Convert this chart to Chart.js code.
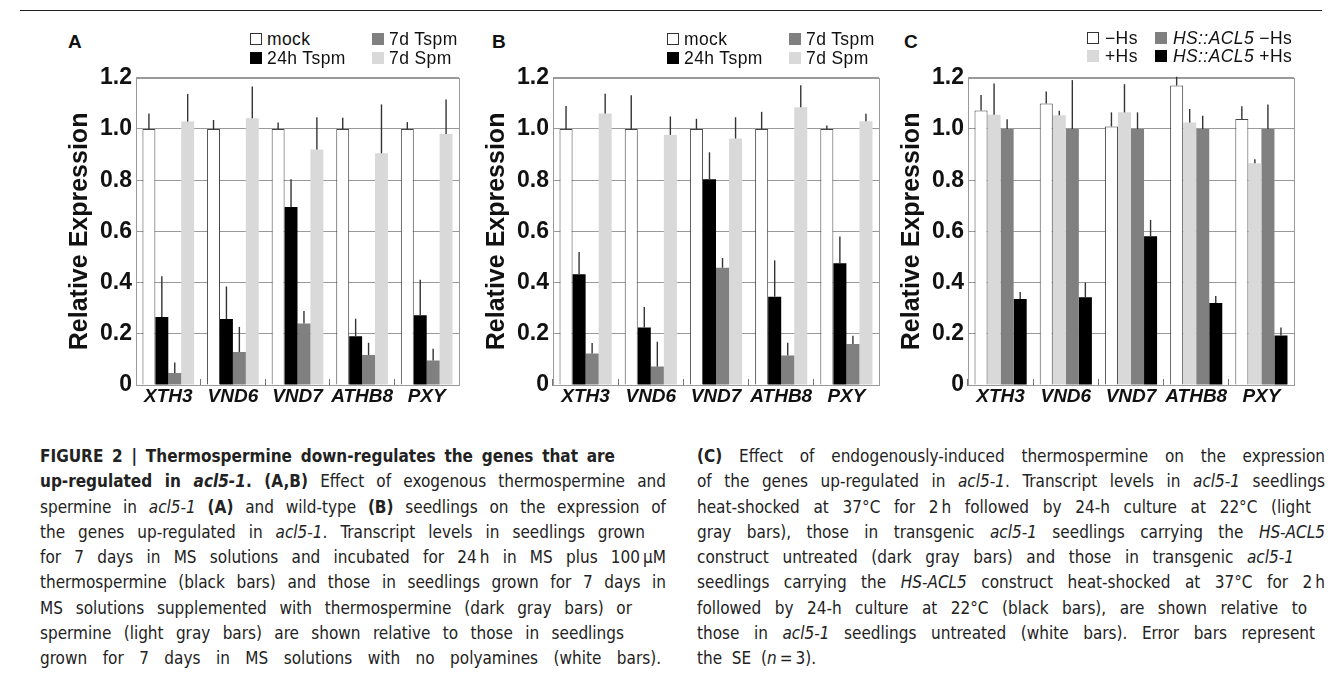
<!DOCTYPE html>
<html><head><meta charset="utf-8">
<script src="https://cdn.jsdelivr.net/npm/chart.js@4"></script>
<style>
html,body{margin:0;padding:0;background:#fff;}
body{width:1342px;height:683px;position:relative;overflow:hidden;font-family:"Liberation Sans",Arial,sans-serif;color:#111;}
.box{position:absolute;}
.rule{position:absolute;left:20px;width:1302px;top:10px;height:1px;background:#222;}
.plabel{position:absolute;font:bold 19px "Liberation Sans",Arial,sans-serif;line-height:19px;}
.leg{position:absolute;font:17.5px "Liberation Sans",Arial,sans-serif;letter-spacing:0.4px;line-height:18px;white-space:nowrap;}
.sw{position:absolute;width:12px;height:12px;box-sizing:border-box;}
.cap{position:absolute;font-family:"Liberation Sans Narrow","DejaVu Sans Condensed","Liberation Sans",sans-serif;font-size:17px;line-height:25.3px;color:#222;}
.cap div{white-space:nowrap;}
.cap .j{text-align:justify;text-align-last:justify;white-space:normal;}
</style></head>
<body>
<div class="rule"></div>

<div class="plabel" style="left:68px;top:32px">A</div>
<div class="plabel" style="left:492px;top:32px">B</div>
<div class="plabel" style="left:904px;top:32px">C</div>

<div class="box" style="left:50px;top:60px;width:420px;height:360px"><canvas id="cA"></canvas></div>
<div class="box" style="left:467px;top:60px;width:423px;height:360px"><canvas id="cB"></canvas></div>
<div class="box" style="left:882px;top:60px;width:423px;height:360px"><canvas id="cC"></canvas></div>

<div id="legends"></div>

<div class="cap" style="left:40px;top:444px;width:626px">
<div class="j" style="width:575px"><b>FIGURE 2 | Thermospermine down-regulates the genes that are</b></div>
<div class="j"><b>up-regulated in <i>acl5-1</i>. (A,B)</b> Effect of exogenous thermospermine and</div>
<div class="j">spermine in <i>acl5-1</i> <b>(A)</b> and wild-type <b>(B)</b> seedlings on the expression of</div>
<div class="j" style="width:605px">the genes up-regulated in <i>acl5-1</i>. Transcript levels in seedlings grown</div>
<div class="j">for 7 days in MS solutions and incubated for 24&#8201;h in MS plus 100&#8201;μM</div>
<div class="j">thermospermine (black bars) and those in seedlings grown for 7 days in</div>
<div class="j" style="width:592px">MS solutions supplemented with thermospermine (dark gray bars) or</div>
<div class="j" style="width:584px">spermine (light gray bars) are shown relative to those in seedlings</div>
<div class="j" style="width:621px">grown for 7 days in MS solutions with no polyamines (white bars).</div>
</div>

<div class="cap" style="left:697px;top:444px;width:628px">
<div class="j"><b>(C)</b> Effect of endogenously-induced thermospermine on the expression</div>
<div class="j">of the genes up-regulated in <i>acl5-1</i>. Transcript levels in <i>acl5-1</i> seedlings</div>
<div class="j" style="width:614px">heat-shocked at 37°C for 2&#8201;h followed by 24-h culture at 22°C (light</div>
<div class="j">gray bars), those in transgenic <i>acl5-1</i> seedlings carrying the <i>HS-ACL5</i></div>
<div class="j" style="width:597px">construct untreated (dark gray bars) and those in transgenic <i>acl5-1</i></div>
<div class="j">seedlings carrying the <i>HS-ACL5</i> construct heat-shocked at 37°C for 2&#8201;h</div>
<div class="j" style="width:610px">followed by 24-h culture at 22°C (black bars), are shown relative to</div>
<div class="j" style="width:618px">those in <i>acl5-1</i> seedlings untreated (white bars). Error bars represent</div>
<div>the&nbsp;&nbsp;SE&nbsp;&nbsp;(<i>n</i>&#8201;=&#8201;3).</div>
</div>

<script>
// ---------- data ----------
const genes = ["XTH3", "VND6", "VND7", "ATHB8", "PXY"];
const yTickLabels = ["0", "0.2", "0.4", "0.6", "0.8", "1.0", "1.2"];
const seriesNamesAB = ["mock", "24h Tspm", "7d Tspm", "7d Spm"];
const seriesNamesC = ["\u2212Hs", "+Hs", "HS::ACL5 \u2212Hs", "HS::ACL5 +Hs"];

// Panel A: acl5-1 seedlings
const aMock        = [1.000, 1.000, 1.000, 1.000, 1.000];
const aMockErr     = [0.061, 0.035, 0.025, 0.044, 0.027];
const a24hTspm     = [0.266, 0.258, 0.695, 0.190, 0.272];
const a24hTspmErr  = [0.159, 0.127, 0.109, 0.069, 0.139];
const a7dTspm      = [0.047, 0.129, 0.240, 0.117, 0.096];
const a7dTspmErr   = [0.041, 0.098, 0.049, 0.048, 0.046];
const a7dSpm       = [1.029, 1.042, 0.920, 0.905, 0.980];
const a7dSpmErr    = [0.108, 0.124, 0.126, 0.191, 0.135];

// Panel B: wild-type seedlings
const bMock        = [1.000, 1.000, 1.000, 1.000, 1.000];
const bMockErr     = [0.090, 0.132, 0.040, 0.067, 0.014];
const b24hTspm     = [0.433, 0.225, 0.804, 0.345, 0.476];
const b24hTspmErr  = [0.087, 0.080, 0.105, 0.142, 0.104];
const b7dTspm      = [0.123, 0.072, 0.458, 0.115, 0.160];
const b7dTspmErr   = [0.041, 0.097, 0.038, 0.050, 0.032];
const b7dSpm       = [1.061, 0.977, 0.963, 1.085, 1.030];
const b7dSpmErr    = [0.077, 0.072, 0.083, 0.086, 0.030];

// Panel C: heat-shock induction
const cNoHs        = [1.072, 1.100, 1.010, 1.170, 1.039];
const cNoHsErr     = [0.061, 0.046, 0.055, 0.034, 0.050];
const cHs          = [1.056, 1.054, 1.065, 1.025, 0.866];
const cHsErr       = [0.122, 0.017, 0.110, 0.053, 0.016];
const cAclNoHs     = [1.000, 1.000, 1.000, 1.000, 1.000];
const cAclNoHsErr  = [0.038, 0.191, 0.065, 0.052, 0.096];
const cAclHs       = [0.336, 0.343, 0.581, 0.320, 0.193];
const cAclHsErr    = [0.027, 0.057, 0.064, 0.028, 0.032];

// ---------- styles ----------
const WHITE = "#ffffff", LIGHT = "#d9d9d9", DARK = "#808080", BLACK = "#000000";
const GRID = "#9a9a9a";

const errorBarPlugin = {
  id: "errorBars",
  afterDatasetsDraw(chart) {
    const ctx = chart.ctx, ys = chart.scales.y;
    ctx.save();
    ctx.strokeStyle = "#333";
    ctx.lineWidth = 1.4;
    chart.data.datasets.forEach((ds, i) => {
      const meta = chart.getDatasetMeta(i);
      meta.data.forEach((el, j) => {
        const top = ys.getPixelForValue(ds.data[j] + ds.errors[j]);
        ctx.beginPath();
        ctx.moveTo(el.x, el.y);
        ctx.lineTo(el.x, top);
        ctx.stroke();
      });
    });
    ctx.restore();
  }
};
const framePlugin = {
  id: "frame",
  beforeDatasetsDraw(chart) {
    const a = chart.chartArea, ctx = chart.ctx;
    ctx.save();
    ctx.strokeStyle = GRID;
    ctx.lineWidth = 1;
    ctx.strokeRect(Math.round(a.left) + 0.5, Math.round(a.top) + 0.5, Math.round(a.right - a.left), Math.round(a.bottom - a.top));
    ctx.restore();
  }
};

function makeChart(id, names, values, errors, colors) {
  const datasets = names.map((n, i) => ({
    label: n,
    data: values[i],
    errors: errors[i],
    backgroundColor: colors[i],
    borderColor: colors[i] === WHITE ? "#444" : colors[i],
    borderWidth: colors[i] === WHITE ? 1 : 0,
    categoryPercentage: 0.8,
    barPercentage: 1.0
  }));
  return new Chart(document.getElementById(id), {
    type: "bar",
    data: { labels: genes, datasets },
    plugins: [framePlugin, errorBarPlugin],
    options: {
      responsive: true,
      maintainAspectRatio: false,
      animation: false,
      layout: { padding: { top: 9, right: 11, left: 0, bottom: 0 } },
      plugins: { legend: { display: false }, tooltip: { enabled: false } },
      scales: {
        x: {
          afterFit(s) { s.height = 35; },
          grid: { display: true, drawOnChartArea: false, drawTicks: true, tickLength: -6, color: "#777", lineWidth: 1, offset: true },
          border: { display: true, color: GRID, width: 1 },
          ticks: { color: "#111", padding: 6, maxRotation: 0, minRotation: 0, autoSkip: false,
                   font: { family: "Liberation Sans", size: 19, weight: "bold", style: "italic" } }
        },
        y: {
          min: 0, max: 1.2,
          afterFit(s) { s.width = 86; },
          afterBuildTicks(s) { s.ticks = yTickLabels.map(t => ({ value: parseFloat(t) })); },
          grid: { color: GRID, lineWidth: 1, drawTicks: false },
          border: { display: true, color: GRID, width: 1 },
          ticks: {
            padding: 4, color: "#111",
            font: { family: "Liberation Sans", size: 23, weight: "bold" },
            callback: (v, i) => yTickLabels[i]
          },
          title: {
            display: true, text: "Relative Expression", color: "#111",
            font: { family: "Liberation Sans", size: 25, weight: "bold" },
            padding: { top: 15, bottom: 0 }
          }
        }
      }
    }
  });
}

makeChart("cA", seriesNamesAB,
  [aMock, a24hTspm, a7dTspm, a7dSpm],
  [aMockErr, a24hTspmErr, a7dTspmErr, a7dSpmErr],
  [WHITE, BLACK, DARK, LIGHT]);
makeChart("cB", seriesNamesAB,
  [bMock, b24hTspm, b7dTspm, b7dSpm],
  [bMockErr, b24hTspmErr, b7dTspmErr, b7dSpmErr],
  [WHITE, BLACK, DARK, LIGHT]);
makeChart("cC", seriesNamesC,
  [cNoHs, cHs, cAclNoHs, cAclHs],
  [cNoHsErr, cHsErr, cAclNoHsErr, cAclHsErr],
  [WHITE, LIGHT, DARK, BLACK]);

// ---------- legends (HTML) ----------
function legItem(x, y, color, html, gap) {
  const d = document.createElement("div");
  d.className = "leg";
  d.style.left = x + "px"; d.style.top = (y - 9) + "px";
  const sw = document.createElement("div");
  sw.className = "sw";
  sw.style.left = "0px"; sw.style.top = "3px";
  sw.style.background = color;
  if (color === WHITE) sw.style.border = "1px solid #333";
  d.appendChild(sw);
  const t = document.createElement("span");
  t.style.marginLeft = gap + "px";
  t.innerHTML = html;
  d.appendChild(t);
  document.getElementById("legends").appendChild(d);
}
const legA = [[250, 39, WHITE, 0], [250, 57.5, BLACK, 1], [372, 39, DARK, 2], [372, 57.5, LIGHT, 3]];
legA.forEach(([x, y, c, i]) => legItem(x, y, c, seriesNamesAB[i], 17));
legA.forEach(([x, y, c, i]) => legItem(x + 417, y, c, seriesNamesAB[i], 17));
const fmtC = s => s.replace("HS::ACL5", "<i>HS::ACL5</i>");
const legC = [[1087, 38, WHITE, 0], [1087, 56, LIGHT, 1], [1155, 38, DARK, 2], [1155, 56, BLACK, 3]];
legC.forEach(([x, y, c, i]) => legItem(x, y, c, fmtC(seriesNamesC[i]), 18));
</script>
</body></html>
